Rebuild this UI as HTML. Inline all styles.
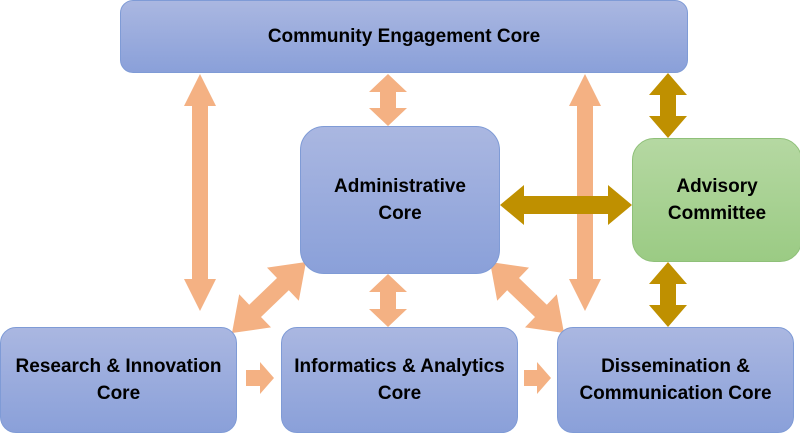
<!DOCTYPE html>
<html><head><meta charset="utf-8"><style>
html,body{margin:0;padding:0;background:#fff;}
body{width:800px;height:431px;position:relative;overflow:hidden;font-family:"Liberation Sans",Arial,sans-serif;}
.b{position:absolute;box-sizing:border-box;border:1px solid #7f9bd6;background:linear-gradient(#aab7e1,#8aa0d9);display:flex;align-items:center;justify-content:center;text-align:center;font-weight:bold;font-size:19px;line-height:27px;color:#000;}
.g{border-color:#8fc079;background:linear-gradient(#b5d8a2,#9bcb84);}
svg{position:absolute;left:0;top:0;}
</style></head><body>
<svg id="s" width="800" height="431"></svg>
<div class="b" style="left:120px;top:0;width:568px;height:73px;border-radius:13px;">Community Engagement Core</div>
<div class="b" style="left:300px;top:126px;width:200px;height:148px;border-radius:24px;">Administrative<br>Core</div>
<div class="b g" style="left:632px;top:138px;width:170px;height:124px;border-radius:22px;">Advisory<br>Committee</div>
<div class="b" style="left:0;top:327px;width:237px;height:106px;border-radius:16px;">Research &amp; Innovation<br>Core</div>
<div class="b" style="left:281px;top:327px;width:237px;height:106px;border-radius:16px;">Informatics &amp; Analytics<br>Core</div>
<div class="b" style="left:557px;top:327px;width:237px;height:106px;border-radius:16px;">Dissemination &amp;<br>Communication Core</div>
<script>
var s=document.getElementById('s');
function arr(x1,y1,x2,y2,w,hw,hl,dbl,c){
 var dx=x2-x1,dy=y2-y1,L=Math.hypot(dx,dy),ux=dx/L,uy=dy/L,nx=-uy,ny=ux;
 function P(t,o){return (x1+ux*t+nx*o).toFixed(1)+','+(y1+uy*t+ny*o).toFixed(1);}
 var pts=[];
 if(dbl){pts.push(P(0,0),P(hl,hw/2),P(hl,w/2));}else{pts.push(P(0,w/2));}
 pts.push(P(L-hl,w/2),P(L-hl,hw/2),P(L,0),P(L-hl,-hw/2),P(L-hl,-w/2));
 if(dbl){pts.push(P(hl,-w/2),P(hl,-hw/2));}else{pts.push(P(0,-w/2));}
 var p=document.createElementNS('http://www.w3.org/2000/svg','polygon');
 p.setAttribute('points',pts.join(' '));p.setAttribute('fill',c);s.appendChild(p);
}
var O='#f4b183',G='#bf9000';
arr(200,74,200,311,16,32,32,true,O);
arr(585,74,585,311,16,32,32,true,O);
arr(388,74,388,126,16,38,18,true,O);
arr(388,274,388,327,16,38,18,true,O);
arr(306,262,232,333,17,46,32,true,O);
arr(490,262,564,333,17,46,32,true,O);
arr(668,73,668,138,16,38,22,true,G);
arr(668,262,668,327,16,38,22,true,G);
arr(500,205,632,205,18,40,24,true,G);
arr(246,378,274,378,16,32,14,false,O);
arr(524,378,551,378,16,32,14,false,O);
</script>
</body></html>
